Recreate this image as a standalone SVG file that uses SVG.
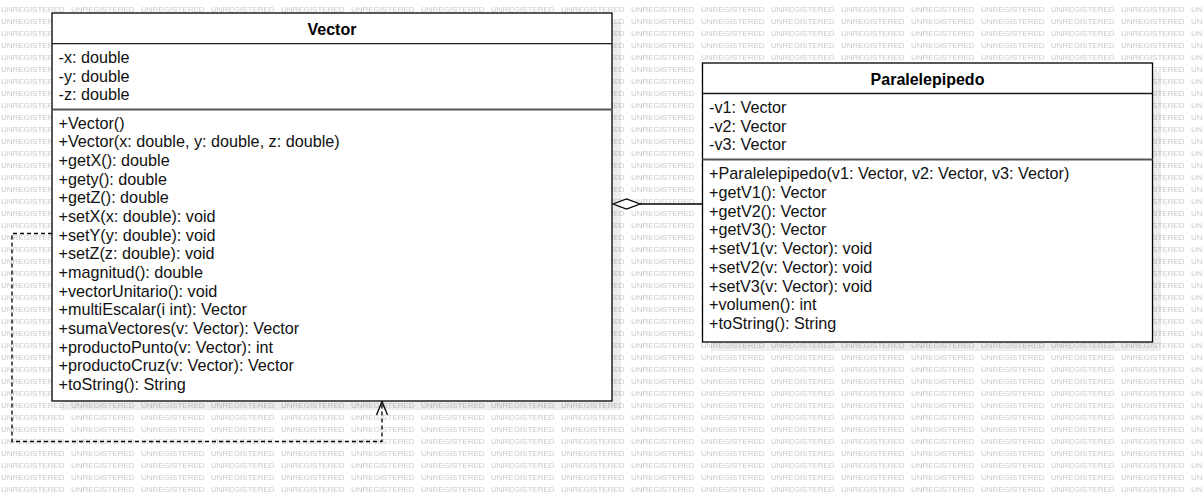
<svg xmlns="http://www.w3.org/2000/svg" width="1203" height="493" viewBox="0 0 1203 493">
  <style>
    .wm { font-family: "Liberation Sans", Arial, sans-serif; font-size: 8px; fill: #c9c9c9; }
    .box { fill: #ffffff; stroke: #000000; stroke-width: 1.3; }
    .shadow { fill: #000000; fill-opacity: 0.07; stroke: none; }
    .hdr { stroke: #1a1a1a; stroke-width: 1.3; }
    .div { stroke: #555555; stroke-width: 2; }
    .title { font-family: "Liberation Sans", Arial, sans-serif; font-size: 16px; font-weight: bold; fill: #000; text-anchor: middle; }
    .mem { font-family: "Liberation Sans", Arial, sans-serif; font-size: 16.2px; fill: #111; }
    .conn { fill: none; stroke: #000; stroke-width: 1.3; }
    .dash { stroke-dasharray: 4 3; }
  </style>
  <defs>
    <pattern id="watermark" patternUnits="userSpaceOnUse" x="0" y="0" width="70" height="12">
      <text class="wm" x="1" y="11.9">UNREGISTERED</text>
    </pattern>
  </defs>

  <rect x="0" y="0" width="1203" height="493" fill="#ffffff"/>
  <rect x="0" y="0" width="1203" height="493" fill="url(#watermark)"/>

  <g id="connectors">
    <!-- dependency (self) -->
    <polyline class="conn dash" points="52,233.5 12,233.5 12,441.5 382,441.5 382,402"/>
    <polyline class="conn" points="376.5,415 382,401.5 387.5,415"/>
    <!-- aggregation -->
    <line class="conn" x1="640" y1="204" x2="702" y2="204"/>
    <polygon points="613,204 626.5,199 640,204 626.5,209" fill="#ffffff" stroke="#000" stroke-width="1.3"/>
  </g>

  <g id="node-vector">
    <rect class="shadow" x="61" y="22" width="560" height="388"/>
    <rect class="box" x="52" y="13" width="560" height="388"/>
    <line class="hdr" x1="52" y1="43.7" x2="612" y2="43.7"/>
    <line class="div" x1="52" y1="109.5" x2="612" y2="109.5"/>
    <text class="title" x="332" y="34.5">Vector</text>
    <text class="mem" x="58.5" y="63.3">-x: double</text>
    <text class="mem" x="58.5" y="81.8">-y: double</text>
    <text class="mem" x="58.5" y="100.3">-z: double</text>
    <text class="mem" x="58.5" y="128.6">+Vector()</text>
    <text class="mem" x="58.5" y="147.3">+Vector(x: double, y: double, z: double)</text>
    <text class="mem" x="58.5" y="166">+getX(): double</text>
    <text class="mem" x="58.5" y="184.6">+gety(): double</text>
    <text class="mem" x="58.5" y="203.3">+getZ(): double</text>
    <text class="mem" x="58.5" y="222">+setX(x: double): void</text>
    <text class="mem" x="58.5" y="240.7">+setY(y: double): void</text>
    <text class="mem" x="58.5" y="259.4">+setZ(z: double): void</text>
    <text class="mem" x="58.5" y="278">+magnitud(): double</text>
    <text class="mem" x="58.5" y="296.7">+vectorUnitario(): void</text>
    <text class="mem" x="58.5" y="315.4">+multiEscalar(i int): Vector</text>
    <text class="mem" x="58.5" y="334">+sumaVectores(v: Vector): Vector</text>
    <text class="mem" x="58.5" y="352.7">+productoPunto(v: Vector): int</text>
    <text class="mem" x="58.5" y="371.4">+productoCruz(v: Vector): Vector</text>
    <text class="mem" x="58.5" y="390">+toString(): String</text>
  </g>

  <g id="node-paralelepipedo">
    <rect class="shadow" x="711" y="72" width="450" height="279"/>
    <rect class="box" x="702.5" y="63" width="450" height="279"/>
    <line class="hdr" x1="702.5" y1="93.5" x2="1152.5" y2="93.5"/>
    <line class="div" x1="702.5" y1="159.5" x2="1152.5" y2="159.5"/>
    <text class="title" x="927.5" y="84.5">Paralelepipedo</text>
    <text class="mem" x="709" y="113.3">-v1: Vector</text>
    <text class="mem" x="709" y="131.8">-v2: Vector</text>
    <text class="mem" x="709" y="150.3">-v3: Vector</text>
    <text class="mem" x="709" y="179.3">+Paralelepipedo(v1: Vector, v2: Vector, v3: Vector)</text>
    <text class="mem" x="709" y="198">+getV1(): Vector</text>
    <text class="mem" x="709" y="216.7">+getV2(): Vector</text>
    <text class="mem" x="709" y="235.4">+getV3(): Vector</text>
    <text class="mem" x="709" y="254.1">+setV1(v: Vector): void</text>
    <text class="mem" x="709" y="272.8">+setV2(v: Vector): void</text>
    <text class="mem" x="709" y="291.5">+setV3(v: Vector): void</text>
    <text class="mem" x="709" y="310.2">+volumen(): int</text>
    <text class="mem" x="709" y="328.9">+toString(): String</text>
  </g>
</svg>
